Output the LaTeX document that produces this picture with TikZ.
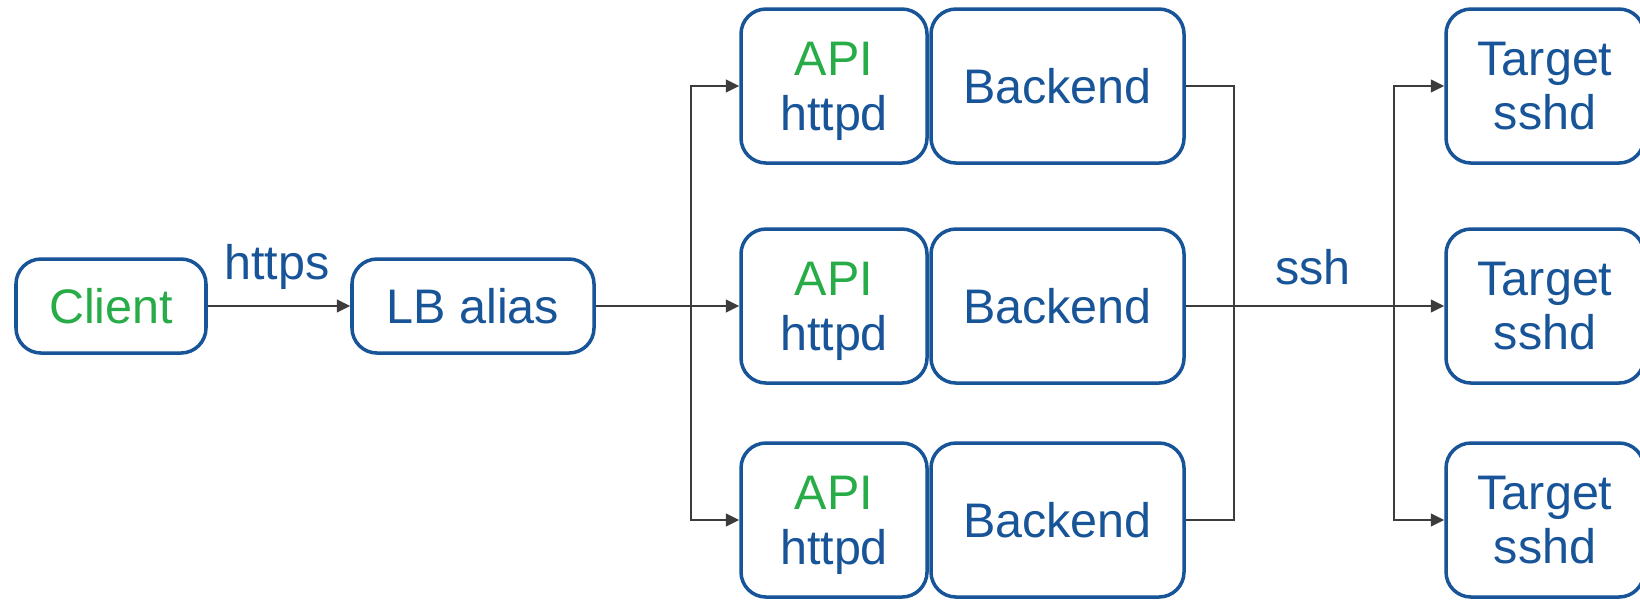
\documentclass[tikz,border=0pt]{standalone}
\usepackage{fontspec}
\setmainfont{Liberation Sans}
\usetikzlibrary{arrows.meta}
\definecolor{boxblue}{RGB}{24,84,152}
\definecolor{apigreen}{RGB}{40,172,72}
\definecolor{wire}{RGB}{60,60,60}
\tikzset{
  box/.style={draw=boxblue,line width=1pt,rounded corners=0.25cm,text=boxblue,
    align=center,inner sep=0pt,font=\fontsize{13.8}{15.6}\selectfont},
  small/.style={box,minimum width=1.90cm,minimum height=0.94cm},
  tall/.style={box,minimum height=1.54cm},
  apibox/.style={tall,minimum width=1.86cm,text depth=0pt},
  wirelabel/.style={text=boxblue,font=\fontsize{13.8}{15.6}\selectfont},
  link/.style={draw=wire,line width=0.6pt},
  arr/.style={link,-{Triangle[length=3.8pt,width=3.6pt]}}
}

\begin{document}
\begin{tikzpicture}
\useasboundingbox[fill=white] (0,0) rectangle (16.4,-5.99);
\node[small,text=apigreen] (client) at (1.11,-3.06) {Client};
\node[small,minimum width=2.42cm] (lb) at (4.73,-3.06) {LB alias};
\node[apibox] (api1) at (8.34,-0.86) {\textcolor{apigreen}{API}\\httpd};
\node[apibox] (api2) at (8.34,-3.06) {\textcolor{apigreen}{API}\\httpd};
\node[apibox] (api3) at (8.34,-5.20) {\textcolor{apigreen}{API}\\httpd};
\node[tall,minimum width=2.53cm] (back1) at (10.575,-0.86) {Backend};
\node[tall,minimum width=2.53cm] (back2) at (10.575,-3.06) {Backend};
\node[tall,minimum width=2.53cm] (back3) at (10.575,-5.20) {Backend};
\node[tall,minimum width=1.98cm] (tgt1) at (15.45,-0.86) {Target\\sshd};
\node[tall,minimum width=1.98cm] (tgt2) at (15.45,-3.06) {Target\\sshd};
\node[tall,minimum width=1.98cm] (tgt3) at (15.45,-5.20) {Target\\sshd};
\node[wirelabel] (https) at (2.77,-2.67) {https};
\node[wirelabel] (ssh) at (13.13,-2.67) {ssh};
\path (6.91,-3.06) coordinate (split) (12.34,-3.06) coordinate (join) (13.94,-3.06) coordinate (fan);
\draw[arr] (client) -- (lb);
\draw[arr] (lb.east) -- (api2.west);
\draw[arr] (split) |- (api1.west);
\draw[arr] (split) |- (api3.west);
\draw[link] (back1.east) -| (join) |- (back3.east);
\draw[arr] (back2.east) -- (tgt2.west);
\draw[arr] (fan) |- (tgt1.west);
\draw[arr] (fan) |- (tgt3.west);
\end{tikzpicture}
\end{document}
